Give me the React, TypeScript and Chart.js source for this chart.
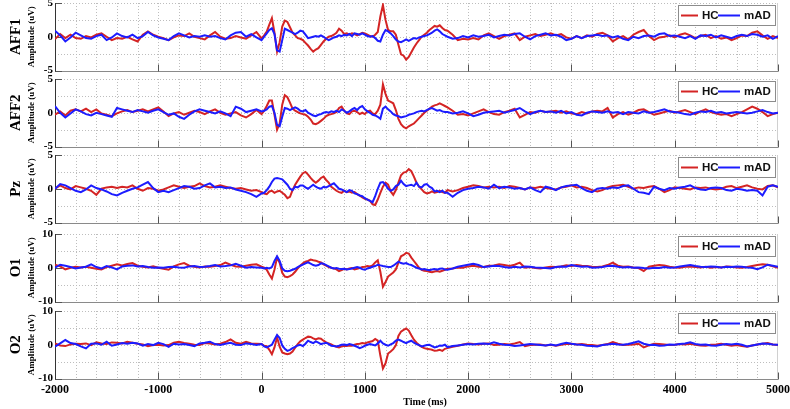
import React, { useEffect, useRef } from "react";
import { Chart, registerables } from "chart.js";

Chart.register(...registerables);

// ---------------- data ----------------
const CHANNELS = ["AFF1", "AFF2", "Pz", "O1", "O2"];
const SERIES_NAMES = ["HC", "mAD"];
const Y_LIMITS = [5, 5, 5, 10, 10];
const Y_STEPS = [2.5, 2.5, 2.5, 5, 5];
const X_TICK_LABELS = [-2000, -1000, 0, 1000, 2000, 3000, 4000, 5000];
const X_MIN = -2000;
const X_MAX = 5000;
const X_GRID_STEP = 200;
const X_TITLE = "Time (ms)";
const Y_TITLE = "Amplitude (uV)";

// sampling of the averaged waveforms (ms)
const PRE_START = -2000, PRE_STEP = 50;   // -2000 .. -50
const EVT_START = 0, EVT_STEP = 25;       // 0 .. 1775
const POST_START = 1800, POST_STEP = 50;  // 1800 .. 5000

const AFF1_HC_PRE = [
  -0.35, 0.4, -0.2, 0.3, -0.2, -0.3, 0.1, -0.1, 0.3, 0.5,
  0.0, -0.5, -0.2, -0.3, 0.0, -0.4, -0.7, 0.3, 0.8, 0.3,
  0.0, -0.2, -0.5, -0.1, 0.2, 0.1, 0.5, 0.0, -0.2, -0.4,
  0.2, 0.7, 0.0, -0.3, -0.2, 0.1, -0.1, -0.3, 0.2, 0.7,
];
const AFF1_HC_EVT = [
  -0.25, 0.2, 0.75, 1.8, 2.75, 0.6, -2.2, -0.8,
  1.5, 2.4, 2.2, 1.4, 0.6, 0.2, -0.2, -0.3,
  -0.5, -0.9, -1.3, -1.8, -2.2, -1.9, -1.7, -1.2,
  -0.7, -0.3, 0.0, 0.1, 0.3, 0.6, 1.2, 0.9,
  0.4, 0.5, 0.3, 0.5, 0.4, 0.2, 0.4, 0.6,
  0.5, 0.3, 0.1, 0.0, 0.3, 0.7, 3.0, 4.7,
  2.5, 1.0, 0.8, 0.8, 0.3, -1.2, -2.6, -2.8,
  -3.4, -3.0, -2.3, -1.6, -1.0, -0.5, 0.0, 0.3,
  0.6, 1.0, 1.3, 1.6, 1.5, 1.7, 1.3, 1.0,
];
const AFF1_HC_POST = [
  0.9, 0.3, -0.5, -0.3, -0.4, -0.2, -0.4, 0.2, 0.5, 0.1,
  -0.3, 0.1, 0.3, 0.5, -0.5, 0.0, 0.2, 0.4, 0.1, 0.3,
  0.5, 0.2, 0.4, -0.1, -0.3, 0.1, -0.2, 0.2, 0.0, 0.4,
  0.6, 0.2, -0.7, -0.2, 0.1, -0.4, 0.3, 0.7, 1.0, 0.1,
  -0.5, -0.1, 0.0, 0.2, -0.1, 0.3, 0.5, 0.2, -0.2, 0.1,
  0.3, -0.2, 0.1, -0.3, -0.1, -0.5, -0.2, 0.2, 0.1, 0.6,
  0.8, 0.2, -0.3, 0.1, -0.2,
];
const AFF1_MAD_PRE = [
  0.9, 0.2, -0.7, -0.1, 0.6, 0.2, -0.2, -0.3, 0.1, 0.3,
  -0.5, -0.1, 0.5, 0.1, -0.1, 0.3, -0.2, 0.1, 0.7, 0.2,
  -0.1, -0.3, -0.5, 0.1, 0.5, 0.2, -0.1, 0.1, 0.0, 0.2,
  0.0, 0.1, -0.2, -0.4, 0.2, 0.6, 0.7, 0.0, 0.4, -0.1,
];
const AFF1_MAD_EVT = [
  -0.5, 0.0, 0.5, 1.0, 1.25, 0.4, -2.0, -2.2,
  -0.5, 1.2, 1.0, 0.8, 0.6, 0.4, 0.6, 0.9,
  0.8, 0.3, -0.2, -0.1, 0.0, 0.1, 0.0, 0.2,
  0.0, -0.3, -0.5, -0.3, -0.1, 0.0, 0.2, 0.1,
  0.3, 0.2, 0.4, 0.1, 0.5, 0.4, 0.3, 0.5,
  0.3, 0.1, 0.0, 0.1, -0.2, -0.6, -0.7, 0.3,
  1.0, 0.8, 0.5, 0.1, -0.4, -0.7, -0.8, -0.6,
  -0.4, -0.6, -0.4, -0.2, -0.3, -0.1, 0.0, 0.1,
  0.2, 0.4, 0.6, 0.9, 1.1, 0.8, 0.4, 0.2,
];
const AFF1_MAD_POST = [
  0.0, -0.3, -0.2, 0.1, -0.1, 0.2, 0.0, 0.1, 0.3, -0.1,
  0.1, 0.3, 0.2, 0.4, 0.5, 0.0, -0.4, 0.1, 0.3, 0.5,
  0.2, 0.3, 0.0, -0.5, -0.3, 0.1, -0.2, 0.1, 0.2, 0.3,
  0.1, 0.2, -0.1, 0.1, -0.3, -0.5, 0.0, -0.2, 0.1, 0.2,
  0.0, 0.4, 0.5, 0.1, 0.2, 0.0, -0.2, 0.1, -0.3, 0.2,
  0.1, 0.3, -0.1, 0.2, 0.0, -0.2, 0.1, 0.3, 0.1, 0.4,
  0.3, 0.0, 0.2, -0.3, 0.1,
];

const AFF2_HC_PRE = [
  -0.3, 0.2, -0.4, 0.3, 0.5, 0.2, 0.6, 0.1, 0.5, -0.1,
  -0.3, -0.5, -0.1, 0.2, 0.4, 0.1, 0.3, 0.5, 0.2, 0.5,
  0.8, 0.2, -0.5, -0.1, 0.1, -0.3, 0.0, 0.3, 0.1, -0.2,
  0.2, 0.5, 0.0, -0.3, -0.1, 0.1, -0.4, -0.7, -0.2, 0.4,
];
const AFF2_HC_EVT = [
  -0.2, 0.3, 1.0, 1.8, 1.8, -0.3, -2.5, -1.6,
  1.2, 2.6, 2.3, 1.5, 0.6, 0.3, 0.1, -0.1,
  -0.2, -0.3, -0.6, -1.0, -1.6, -1.7, -1.5, -1.2,
  -0.9, -0.5, -0.3, -0.2, -0.1, 0.1, 0.7, 0.9,
  0.3, -0.1, -0.2, 0.2, 0.3, 0.1, -0.2, 0.0,
  -0.2, 0.2, 0.3, -0.1, -0.2, 0.3, 1.2, 4.2,
  2.8, 1.8, 1.6, 1.4, 0.4, -0.9, -1.7, -2.1,
  -2.3, -2.0, -1.8, -1.6, -1.2, -0.8, -0.4, 0.0,
  0.3, 0.6, 0.9, 1.1, 1.2, 1.4, 1.2, 1.0,
];
const AFF2_HC_POST = [
  0.8, 0.3, -0.3, -0.2, -0.4, -0.1, 0.2, 0.5, 0.1, -0.2,
  -0.3, 0.1, 0.3, 0.6, -0.7, -0.3, 0.1, 0.0, 0.3, 0.1,
  0.2, 0.3, 0.0, 0.2, -0.1, -0.2, 0.1, -0.1, 0.2, 0.3,
  0.2, 0.7, -0.7, -0.2, 0.1, -0.3, 0.0, 0.4, 0.5, 0.1,
  -0.3, -0.1, 0.1, 0.3, 0.0, 0.2, 0.4, 0.1, -0.2, 0.2,
  0.5, 0.1, -0.1, -0.3, -0.2, -0.5, -0.2, 0.1, 0.5, 0.9,
  0.6, 0.1, -0.5, -0.2, 0.0,
];
const AFF2_MAD_PRE = [
  1.0, 0.0, -0.7, -0.1, 0.5, 0.2, -0.2, -0.4, 0.0, -0.2,
  -0.4, -0.6, 0.7, 0.5, 0.3, 0.1, 0.4, 0.2, 0.0, 0.3,
  0.5, 0.1, -0.3, -0.1, -0.6, -0.9, -0.3, 0.2, 0.5, 0.3,
  0.1, -0.1, 0.2, -0.1, -0.5, 0.9, 0.6, 0.1, 0.3, 0.5,
];
const AFF2_MAD_EVT = [
  0.2, 0.3, 0.5, 0.9, 1.0, 0.0, -1.8, -2.0,
  -0.6, 0.7, 0.6, 0.4, 0.6, 0.8, 0.6, 0.3,
  0.2, 0.4, 0.0, -0.2, -0.4, -0.5, -0.3, -0.2,
  0.0, 0.1, 0.0, 0.2, 0.1, 0.3, 0.1, 0.5,
  0.3, 0.0, 0.2, 0.5, 0.7, 0.4, 0.8, 1.0,
  0.5, 0.2, 0.0, -0.3, -0.4, -0.6, -0.9, 0.6,
  0.9, 0.5, 0.2, -0.2, -0.4, -0.5, -0.7, -0.6,
  -0.5, -0.3, -0.2, -0.1, 0.1, 0.2, 0.3, 0.2,
  0.4, 0.6, 0.7, 0.5, 0.3, 0.4, 0.2, 0.1,
];
const AFF2_MAD_POST = [
  0.1, -0.1, 0.0, 0.2, -0.1, -0.5, -0.3, 0.0, 0.1, 0.2,
  0.3, 0.0, 0.2, 0.4, 0.7, 0.2, -0.2, 0.1, 0.3, 0.1,
  0.2, 0.0, 0.3, -0.1, 0.1, -0.3, -0.4, 0.0, 0.2, 0.1,
  0.0, 0.2, 0.0, 0.1, -0.2, 0.1, 0.0, -0.1, 0.2, 0.0,
  0.1, 0.3, 0.5, 0.2, 0.1, 0.0, -0.2, -0.3, 0.0, 0.2,
  0.1, 0.3, 0.0, 0.1, -0.1, 0.0, 0.1, 0.0, -0.1, 0.0,
  0.2, 0.4, 0.1, -0.1, 0.0,
];

const PZ_HC_PRE = [
  0.0, 0.5, 0.1, -0.1, 0.4, 0.2, 0.0, -0.3, -0.9, 0.0,
  0.2, 0.3, 0.1, 0.3, 0.2, 0.5, 0.0, -0.3, 0.1, 0.0,
  -0.3, -0.1, 0.2, 0.5, 0.3, 0.1, 0.3, 0.4, 0.8, 0.4,
  0.2, 0.3, 0.5, 0.3, 0.1, 0.0, 0.1, -0.1, -0.3, -0.2,
];
const PZ_HC_EVT = [
  -0.5, -0.7, -0.8, -0.4, -0.3, -0.6, -0.4, -0.3,
  -0.6, -0.9, -1.4, -1.2, -0.2, 0.6, 1.2, 1.8,
  2.3, 2.5, 2.1, 1.6, 1.2, 0.9, 1.2, 1.6,
  1.8, 1.3, 0.9, 0.3, 0.0, -0.3, -0.5, -0.6,
  -0.3, -0.5, -0.4, -0.6, -0.5, -0.8, -1.0, -1.3,
  -1.5, -1.6, -1.8, -2.3, -2.4, -1.6, -0.6, 0.3,
  0.9, 0.6, -0.4, -0.9, -0.2, 0.9, 2.0, 2.4,
  2.5, 2.9, 2.6, 1.8, 0.9, 0.3, -0.1, -0.5,
  -0.7, -0.6, -0.4, -0.6, -0.5, -0.3, -0.5, -0.6,
];
const PZ_HC_POST = [
  -0.2, -0.4, -0.2, 0.1, 0.3, 0.5, 0.4, 0.2, 0.3, 0.2,
  0.3, 0.1, 0.4, 0.3, 0.1, -0.1, 0.2, 0.1, 0.3, 0.1,
  0.0, -0.1, 0.2, 0.3, 0.5, 0.2, 0.3, 0.1, -0.2, -0.4,
  -0.2, 0.2, 0.4, 0.5, 0.6, 0.3, 0.0, 0.2, 0.1, 0.3,
  0.4, 0.0, -0.5, -0.2, 0.2, 0.1, 0.0, -0.1, 0.2, 0.1,
  0.2, 0.0, -0.1, 0.0, 0.3, 0.4, 0.1, 0.3, 0.5, 0.2,
  0.0, -0.1, 0.4, 0.5, 0.2,
];
const PZ_MAD_PRE = [
  0.0, 0.7, 0.5, 0.1, -0.3, -0.5, -0.1, 0.5, 0.1, -0.1,
  -0.4, -0.8, -1.0, -0.6, -0.3, 0.0, 0.2, 0.6, 1.0, 0.1,
  -0.5, -0.3, -0.5, -0.2, 0.1, 0.4, 0.3, 0.0, 0.1, 0.5,
  0.8, 0.2, 0.3, 0.1, 0.2, -0.1, -0.3, -0.5, -0.8, -1.2,
];
const PZ_MAD_EVT = [
  -0.7, -0.6, -0.2, 0.3, 1.0, 1.5, 1.6, 1.5,
  1.4, 1.0, 0.6, 0.0, -0.2, 0.3, 0.2, 0.5,
  0.5, 0.2, 0.0, 0.3, 0.6, 0.3, 0.1, 0.0,
  0.3, 0.2, 0.4, 0.6, 0.8, 0.4, 0.0, -0.1,
  -0.3, -0.5, -0.2, -0.3, -0.7, -0.8, -1.0, -1.1,
  -1.4, -1.6, -1.8, -2.0, -1.1, 0.0, 0.9, 1.0,
  0.6, 0.0, -0.3, -0.1, 0.4, 0.6, 1.2, 0.7,
  0.4, 0.5, 0.6, 0.4, 0.9, 0.3, 0.2, 0.6,
  0.7, 0.3, 0.1, -0.4, -0.3, -0.5, -0.3, -0.6,
];
const PZ_MAD_POST = [
  -0.6, -1.2, -0.6, -0.2, 0.0, 0.1, 0.3, 0.2, 0.0, 0.6,
  0.1, 0.3, 0.2, 0.0, 0.1, -0.1, 0.2, -0.2, -0.5, 0.3,
  0.1, -0.2, 0.2, 0.4, 0.5, 0.6, 0.1, -0.3, -0.5, 0.0,
  0.1, 0.0, 0.2, 0.1, 0.4, 0.5, 0.0, -0.5, -0.6, -0.8,
  0.3, 0.0, -0.2, 0.1, 0.0, 0.2, 0.3, 0.5, 0.1, -0.1,
  -0.2, 0.1, 0.2, 0.1, -0.2, -0.3, 0.0, -0.1, -0.3, -0.2,
  -0.3, -1.0, 0.3, 0.5, 0.3,
];

const O1_HC_PRE = [
  0.9, 0.4, -0.5, 0.0, 0.3, 0.1, 0.3, 0.0, -0.3, -0.5,
  0.2, 0.6, 1.0, 0.7, 1.1, 1.4, 0.6, 0.3, 0.1, 0.4,
  0.0, -0.3, -0.6, 0.4, 1.0, 1.4, 0.6, 0.3, 0.1, 0.4,
  0.3, 0.5, 0.8, 1.5, 0.9, 0.4, 0.3, 0.6, 0.9, 1.0,
];
const O1_HC_EVT = [
  0.3, 0.0, -0.6, -2.0, -3.2, -0.5, 3.0, 1.5,
  -1.5, -2.6, -2.8, -2.5, -2.0, -1.2, -0.2, 0.6,
  1.3, 1.8, 2.0, 2.4, 2.2, 2.1, 1.8, 1.6,
  1.0, 0.6, 0.2, 0.0, -0.2, -0.5, -1.0, -0.7,
  -0.3, -0.5, -0.2, -0.1, -0.5, -0.3, -0.1, 0.2,
  0.3, 0.5, 0.4, 0.7, 1.6, 2.2, -1.2, -5.6,
  -4.2, -2.6, -2.0, -1.4, -0.5, 1.5, 3.4, 3.8,
  4.4, 4.2, 3.0, 2.0, 1.0, 0.0, -0.6, -0.9,
  -1.0, -1.2, -1.3, -1.1, -1.0, -1.2, -0.9, -0.6,
];
const O1_HC_POST = [
  -0.3, -0.2, 0.1, 0.0, 0.4, 0.6, 0.3, 0.2, 0.6, 0.7,
  1.0, 0.8, 0.5, 0.9, 1.5, 0.0, 0.2, -0.1, -0.2, 0.1,
  0.3, 0.2, 0.4, 0.7, 0.5, 0.8, 0.6, 0.5, 0.3, 0.2,
  0.4, 0.8, 1.5, 0.6, 0.3, 0.4, 0.1, -0.1, -1.0, 0.3,
  0.6, 0.8, 0.7, 0.3, 0.1, 0.0, 0.3, 0.4, 0.2, 0.1,
  0.3, 0.0, 0.2, 0.1, 0.4, 0.3, 0.1, 0.0, 0.2, 0.5,
  0.8, 1.0, 0.9, 0.4, 0.0,
];
const O1_MAD_PRE = [
  0.0, 0.9, 0.6, 0.2, -0.2, 0.1, 0.3, 1.0, 0.2, -0.2,
  0.5, 0.1, -0.5, 0.4, 0.6, 0.7, 0.4, 0.5, 0.2, 0.0,
  0.1, 0.0, 0.2, 0.3, 0.1, 0.0, 0.4, 0.5, 0.2, 0.3,
  0.5, 0.8, 0.4, 0.5, 0.7, 1.2, 0.6, 0.0, 0.2, 0.1,
];
const O1_MAD_EVT = [
  0.0, -0.2, 0.0, -0.2, 0.2, 2.0, 3.4, 2.0,
  -0.2, -0.9, -1.0, -0.9, -0.6, -0.3, 0.2, 0.6,
  0.9, 1.3, 1.6, 1.2, 0.8, 0.6, 0.8, 1.3,
  1.2, 0.8, 0.4, 0.0, -0.2, -0.1, -0.3, -0.4,
  -0.3, -0.5, -0.4, -0.2, 0.0, 0.2, 0.0, -0.4,
  -0.6, -0.2, 0.0, 0.3, 0.5, 0.9, 0.7, 0.5,
  0.4, 0.2, 0.2, 0.6, 1.2, 1.8, 1.4, 1.2,
  1.4, 1.0, 0.8, 0.4, 0.0, -0.2, -0.5, -0.4,
  -0.6, -0.7, -0.5, -0.4, -0.6, -0.3, -0.2, -0.5,
];
const O1_MAD_POST = [
  -0.6, -0.2, 0.3, 0.6, 0.9, 1.2, 0.8, 0.2, 0.4, 0.6,
  0.5, 0.2, 0.0, 0.3, 0.1, 0.4, 0.3, 0.1, 0.0, -0.1,
  -0.2, 0.2, 0.4, 0.3, 0.8, 0.5, 0.3, 0.4, 0.0, 0.1,
  0.2, 0.5, 0.6, 0.3, 0.1, 0.2, 0.0, 0.1, -0.1, -0.2,
  0.0, -0.1, 0.2, 0.0, 0.1, 0.4, 0.6, 0.8, 0.5, 0.3,
  0.2, 0.4, 0.3, 0.1, 0.3, 0.2, 0.4, 0.3, 0.1, 0.0,
  -0.4, 0.1, 0.9, 0.6, 0.3,
];

const O2_HC_PRE = [
  0.4, -0.2, -0.4, 0.1, 0.3, 0.2, 0.4, -0.1, 0.7, 0.4,
  0.2, 0.7, 0.6, 0.4, 0.9, 0.6, 0.3, 0.1, -0.4, -0.1,
  0.0, -0.2, -0.1, 0.6, 0.9, 0.5, 0.3, 0.0, -0.1, 0.5,
  0.4, 0.1, 0.3, 0.8, 1.6, 0.6, 0.3, 0.9, 0.4, 0.3,
];
const O2_HC_EVT = [
  0.2, -0.3, -0.4, -1.5, -2.8, -0.8, 2.2, -0.6,
  -2.3, -2.6, -2.8, -2.6, -2.0, -0.9, 0.2, 1.0,
  1.5, 2.0, 2.4, 2.3, 1.9, 1.6, 1.9, 1.8,
  1.2, 0.7, 0.4, 0.1, -0.3, -0.6, -0.8, -0.5,
  -0.3, -0.4, -0.2, -0.3, 0.0, 0.2, 0.3, 0.5,
  0.4, 0.7, 0.9, 1.1, 1.7, 1.2, -3.2, -7.0,
  -5.5, -2.6, -2.0, -1.3, -0.2, 2.6, 3.9, 4.4,
  4.8, 4.2, 2.8, 1.5, 0.6, -0.1, -0.6, -1.0,
  -1.2, -1.3, -1.5, -1.8, -1.7, -1.5, -1.8, -1.2,
];
const O2_HC_POST = [
  -1.0, -0.6, -0.3, 0.1, 0.4, 0.2, 0.1, 0.3, 0.4, -0.1,
  0.0, 0.2, 0.1, 0.4, 0.8, -0.4, -0.1, 0.0, 0.1, -0.2,
  0.0, -0.3, 0.0, 0.2, 0.3, 0.1, 0.2, 0.0, -0.1, -0.3,
  -0.1, 0.2, 0.8, 0.3, -0.1, 0.0, 0.1, 0.3, -0.8, -0.2,
  0.3, 0.2, 0.1, -0.1, 0.0, 0.2, 0.1, 0.3, 0.0, -0.2,
  -0.3, 0.0, 0.1, 0.3, 0.0, -0.3, -0.1, -0.4, -0.6, -0.2,
  0.1, 0.3, 0.5, 0.1, -0.1,
];
const O2_MAD_PRE = [
  -0.6, 0.4, 1.4, 0.5, 0.2, -0.5, -1.1, 0.3, 0.4, 0.0,
  0.9, -0.3, 0.1, 0.5, 0.3, 0.6, 0.4, -0.3, 0.2, -0.1,
  0.6, 0.2, -0.6, 0.3, 0.1, 0.2, -0.1, -0.4, 0.4, 0.6,
  0.9, 0.2, -0.1, 0.3, 0.6, 0.0, -0.1, 0.4, 0.2, -0.1,
];
const O2_MAD_EVT = [
  0.2, -0.5, -0.8, -0.4, 0.0, 1.5, 2.9, 2.0,
  -0.2, -1.2, -1.8, -1.5, -1.0, -0.6, -0.2, 0.0,
  -0.4, 0.3, 1.2, 0.8, 0.5, 1.0, 0.6, 0.2,
  0.4, 0.6, 0.2, -0.3, -0.4, -0.5, -0.3, 0.0,
  0.1, -0.1, 0.2, 0.0, -0.3, -0.6, -1.0, -0.7,
  -0.3, 0.0, 0.2, 0.0, -0.2, 0.4, 1.2, 0.4,
  0.0, -0.3, 0.1, 0.5, 1.2, 1.5, 1.2, 0.8,
  0.5, 0.9, 1.2, 0.6, 0.2, -0.1, -0.5, -0.3,
  -0.1, 0.0, -0.4, -0.8, -0.6, -0.2, -0.3, 0.0,
];
const O2_MAD_POST = [
  -0.7, -0.4, -0.2, 0.0, 0.2, 0.1, 0.3, 0.4, 0.2, 0.7,
  0.3, 0.0, -0.1, -0.4, -0.2, 0.0, 0.2, 0.1, -0.1, -0.2,
  0.1, -0.2, 0.2, 0.6, 0.3, 0.1, 0.0, -0.3, -0.4, -0.5,
  -0.1, 0.1, 0.3, 0.1, 0.0, 0.2, 0.6, 1.0, 0.3, -0.1,
  0.0, -0.3, -0.2, 0.1, 0.0, 0.2, 0.4, 0.7, 0.2, 0.0,
  0.1, -0.2, -0.3, 0.0, 0.2, 0.1, 0.3, 0.0, -0.5, -0.2,
  0.1, 0.4, 0.3, 0.1, 0.0,
];

const HC_SERIES = [
  [AFF1_HC_PRE, AFF1_HC_EVT, AFF1_HC_POST],
  [AFF2_HC_PRE, AFF2_HC_EVT, AFF2_HC_POST],
  [PZ_HC_PRE, PZ_HC_EVT, PZ_HC_POST],
  [O1_HC_PRE, O1_HC_EVT, O1_HC_POST],
  [O2_HC_PRE, O2_HC_EVT, O2_HC_POST],
];
const MAD_SERIES = [
  [AFF1_MAD_PRE, AFF1_MAD_EVT, AFF1_MAD_POST],
  [AFF2_MAD_PRE, AFF2_MAD_EVT, AFF2_MAD_POST],
  [PZ_MAD_PRE, PZ_MAD_EVT, PZ_MAD_POST],
  [O1_MAD_PRE, O1_MAD_EVT, O1_MAD_POST],
  [O2_MAD_PRE, O2_MAD_EVT, O2_MAD_POST],
];

// ---------------- layout / style ----------------
const W = 790;
const H = 409;
const PANEL_TOPS = [3, 79, 155, 234, 311];
const PANEL_HEIGHT = 67.5;
const PLOT_LEFT = 55;
const PLOT_RIGHT = 778;
const LAST_X_AXIS_H = 22;

const RED = "#d42424";
const BLUE = "#1c1cff";
const GRID = "#bdbdbd";
const SERIF = "'Liberation Serif', 'Times New Roman', serif";
const SANS = "'Liberation Sans', Arial, sans-serif";

function buildPoints(parts: number[][]) {
  const [pre, evt, post] = parts;
  const pts: { x: number; y: number }[] = [];
  pre.forEach((y, i) => pts.push({ x: PRE_START + i * PRE_STEP, y }));
  evt.forEach((y, i) => pts.push({ x: EVT_START + i * EVT_STEP, y }));
  post.forEach((y, i) => pts.push({ x: POST_START + i * POST_STEP, y }));
  return pts;
}

function line(ctx: CanvasRenderingContext2D, x1: number, y1: number, x2: number, y2: number) {
  ctx.beginPath();
  ctx.moveTo(x1, y1);
  ctx.lineTo(x2, y2);
  ctx.stroke();
}

function makePlugin(index: number) {
  const isLast = index === CHANNELS.length - 1;
  return {
    id: "panelDecor" + index,
    beforeDatasetsDraw(chart: any) {
      const { ctx, chartArea: a, scales } = chart;
      const x = scales.x;
      const y = scales.y;
      ctx.save();
      ctx.lineWidth = 1;
      ctx.strokeStyle = GRID;
      ctx.setLineDash([1, 2]);
      for (let t = X_MIN + X_GRID_STEP; t < X_MAX; t += X_GRID_STEP) {
        const px = Math.round(x.getPixelForValue(t)) + 0.5;
        line(ctx, px, a.top, px, a.bottom);
      }
      y.ticks.forEach((tk: any) => {
        if (tk.value <= y.min) return;
        const py = Math.round(y.getPixelForValue(tk.value)) + 0.5;
        line(ctx, a.left, py, a.right, py);
      });
      ctx.setLineDash([]);
      const bottom = Math.round(a.bottom) + 0.5;
      const left = Math.round(a.left) + 0.5;
      const right = Math.round(a.right) - 0.5;
      ctx.strokeStyle = "#d0d0d0";
      line(ctx, right, a.top, right, a.bottom);
      ctx.strokeStyle = "#8a8a8a";
      line(ctx, a.left, bottom, a.right, bottom);
      ctx.strokeStyle = "#555";
      X_TICK_LABELS.forEach((t) => {
        const px = Math.round(x.getPixelForValue(t)) + 0.5;
        line(ctx, px, bottom, px, bottom - 7);
      });
      y.ticks.forEach((tk: any) => {
        if (tk.value % (2 * Y_STEPS[index]) !== 0) return;
        const py = Math.round(y.getPixelForValue(tk.value)) + 0.5;
        line(ctx, a.left, py, a.left + 7, py);
      });
      ctx.strokeStyle = "#333";
      line(ctx, left, a.top, left, a.bottom + 1);
      ctx.restore();
    },
    afterDraw(chart: any) {
      const { ctx, chartArea: a } = chart;
      ctx.save();
      // legend
      const bx = Math.round(a.right) - 100;
      const by = Math.round(a.top) + 2;
      const bw = 97;
      const bh = 20;
      ctx.fillStyle = "#fff";
      ctx.fillRect(bx, by, bw, bh);
      ctx.strokeStyle = "#8c8c8c";
      ctx.lineWidth = 1;
      ctx.strokeRect(bx + 0.5, by + 0.5, bw, bh);
      const cy = by + bh / 2 + 0.5;
      ctx.lineWidth = 2;
      ctx.strokeStyle = RED;
      line(ctx, bx + 3, cy, bx + 20, cy);
      ctx.strokeStyle = BLUE;
      line(ctx, bx + 40, cy, bx + 62, cy);
      ctx.fillStyle = "#111";
      ctx.font = `bold 11.5px ${SANS}`;
      ctx.textBaseline = "middle";
      ctx.textAlign = "left";
      ctx.fillText(SERIES_NAMES[0], bx + 24, cy + 0.5);
      ctx.fillText(SERIES_NAMES[1], bx + 66, cy + 0.5);
      // side labels
      const midY = (a.top + a.bottom) / 2;
      ctx.fillStyle = "#000";
      ctx.textAlign = "center";
      ctx.save();
      ctx.translate(16, midY);
      ctx.rotate(-Math.PI / 2);
      ctx.font = `bold 15px ${SERIF}`;
      ctx.fillText(CHANNELS[index], 0, 0);
      ctx.restore();
      ctx.save();
      ctx.translate(31.5, midY);
      ctx.rotate(-Math.PI / 2);
      ctx.font = `bold 9px ${SERIF}`;
      ctx.fillText(Y_TITLE, 0, 0);
      ctx.restore();
      if (isLast) {
        ctx.font = `bold 10px ${SERIF}`;
        ctx.fillText(X_TITLE, 425, 402);
      }
      ctx.restore();
    },
  };
}

function makeChart(canvas: HTMLCanvasElement, index: number) {
  const isLast = index === CHANNELS.length - 1;
  const top = PANEL_TOPS[index];
  const xAxisH = isLast ? LAST_X_AXIS_H : 0;
  const lim = Y_LIMITS[index];
  const step = Y_STEPS[index];
  return new Chart(canvas, {
    type: "line",
    data: {
      datasets: [
        {
          label: SERIES_NAMES[0],
          data: buildPoints(HC_SERIES[index]),
          borderColor: RED,
          borderWidth: 2,
          pointRadius: 0,
          tension: 0,
          order: 1,
        },
        {
          label: SERIES_NAMES[1],
          data: buildPoints(MAD_SERIES[index]),
          borderColor: BLUE,
          borderWidth: 2,
          pointRadius: 0,
          tension: 0,
          order: 0,
        },
      ],
    },
    options: {
      responsive: false,
      animation: false,
      devicePixelRatio: 1,
      layout: {
        padding: {
          left: 0,
          right: W - PLOT_RIGHT,
          top,
          bottom: H - (top + PANEL_HEIGHT) - xAxisH,
        },
      },
      plugins: { legend: { display: false }, tooltip: { enabled: false } },
      scales: {
        x: {
          type: "linear",
          min: X_MIN,
          max: X_MAX,
          display: isLast,
          grid: { display: false, drawTicks: false },
          border: { display: false },
          ticks: {
            stepSize: 1000,
            autoSkip: false,
            maxRotation: 0,
            padding: 4,
            color: "#000",
            font: { family: SERIF, size: 12, weight: "bold" },
            callback: (v: any) => String(v),
          },
          afterFit: (s: any) => {
            s.height = xAxisH;
            s.paddingLeft = 0;
            s.paddingRight = 0;
          },
        },
        y: {
          type: "linear",
          min: -lim,
          max: lim,
          grid: { display: false, drawTicks: false },
          border: { display: false },
          ticks: {
            stepSize: step,
            autoSkip: false,
            padding: 2,
            color: "#000",
            font: { family: SERIF, size: 11, weight: "bold" },
            callback: (v: any) => (Number(v) % (2 * step) === 0 ? String(v) : ""),
          },
          afterFit: (s: any) => {
            s.width = PLOT_LEFT;
            s.paddingTop = 0;
            s.paddingBottom = 0;
          },
        },
      },
    } as any,
    plugins: [makePlugin(index)],
  });
}

export default function App() {
  const refs = useRef<(HTMLCanvasElement | null)[]>([]);
  useEffect(() => {
    const charts = CHANNELS.map((_, i) => makeChart(refs.current[i] as HTMLCanvasElement, i));
    return () => {
      charts.forEach((c) => c.destroy());
    };
  }, []);
  return (
    <div style={{ position: "absolute", left: 0, top: 0, width: W, height: H, background: "#fff" }}>
      {CHANNELS.map((name, i) => (
        <canvas
          key={name}
          ref={(el) => {
            refs.current[i] = el;
          }}
          width={W}
          height={H}
          style={{ position: "absolute", left: 0, top: 0, width: W, height: H }}
        />
      ))}
    </div>
  );
}
